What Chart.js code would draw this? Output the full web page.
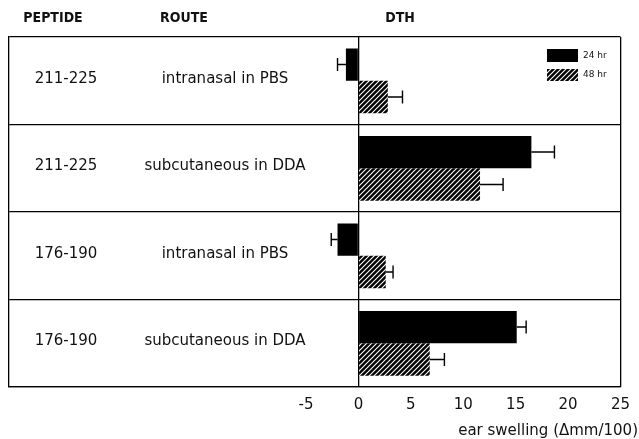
<!DOCTYPE html>
<html>
<head>
<meta charset="utf-8">
<script src="https://cdn.jsdelivr.net/npm/chart.js@4.4.1/dist/chart.umd.min.js"></script>
<style>
  html, body { margin: 0; padding: 0; background: #fff; }
  #wrap { width: 639px; height: 439px; }
</style>
</head>
<body>
<div id="wrap"><canvas id="dthChart" width="639" height="439"></canvas></div>
<script>
const peptides = ["211-225", "211-225", "176-190", "176-190"];
const routes = ["intranasal in PBS", "subcutaneous in DDA", "intranasal in PBS", "subcutaneous in DDA"];
const hr24 = [-1.2, 16.5, -2.0, 15.1];
const hr24Err = [0.8, 2.2, 0.6, 0.9];
const hr48 = [2.8, 11.6, 2.6, 6.8];
const hr48Err = [1.4, 2.2, 0.7, 1.4];
const xTicks = [-5, 0, 5, 10, 15, 20, 25];

// diagonal hatch for the 48 hr bars
function makeHatch() {
  const c = document.createElement("canvas");
  c.width = 5; c.height = 5;
  const g = c.getContext("2d");
  g.fillStyle = "#000";
  g.fillRect(0, 0, 5, 5);
  g.strokeStyle = "#fff";
  g.lineWidth = 1.1;
  g.beginPath();
  g.moveTo(-1, 6); g.lineTo(6, -1);
  g.moveTo(-1, 1); g.lineTo(1, -1);
  g.moveTo(4, 6); g.lineTo(6, 4);
  g.stroke();
  return g.createPattern(c, "repeat");
}
const hatch = makeHatch();

const textFont = '"DejaVu Sans", sans-serif';

const extras = {
  id: "extras",
  afterDatasetsDraw(chart) {
    const ctx = chart.ctx;
    const x = chart.scales.x;
    const y = chart.scales.y;

    // error bars
    ctx.save();
    ctx.strokeStyle = "#000";
    ctx.lineWidth = 1.4;
    [[0, hr24, hr24Err], [1, hr48, hr48Err]].forEach(([di, vals, errs]) => {
      const meta = chart.getDatasetMeta(di);
      meta.data.forEach((bar, i) => {
        const v = vals[i];
        const end = v < 0 ? v - errs[i] : v + errs[i];
        const x0 = x.getPixelForValue(v);
        const x1 = x.getPixelForValue(end);
        const cy = bar.y;
        ctx.beginPath();
        ctx.moveTo(x0, cy); ctx.lineTo(x1, cy);
        ctx.moveTo(x1, cy - 6.5); ctx.lineTo(x1, cy + 6.5);
        ctx.stroke();
      });
    });

    // table text
    ctx.fillStyle = "#111";
    ctx.textBaseline = "middle";
    ctx.textAlign = "center";
    ctx.font = "15px " + textFont;
    peptides.forEach((p, i) => {
      const cy = y.getPixelForValue(i) - 2;
      ctx.fillText(p, 66, cy);
      ctx.fillText(routes[i], 225, cy);
    });

    // headers
    ctx.font = 'bold 14px "DejaVu Sans Condensed", "DejaVu Sans", sans-serif';
    ctx.fillText("PEPTIDE", 53, 18);
    ctx.fillText("ROUTE", 184, 18);
    ctx.fillText("DTH", 400, 18);

    // legend
    ctx.fillStyle = "#000";
    ctx.fillRect(547, 49, 31, 13);
    ctx.fillStyle = hatch;
    ctx.fillRect(547, 69, 31, 12);
    ctx.fillStyle = "#111";
    ctx.textAlign = "left";
    ctx.font = "9px " + textFont;
    ctx.fillText("24 hr", 583, 56);
    ctx.fillText("48 hr", 583, 75);

    // axis title
    ctx.font = "15px " + textFont;
    ctx.textAlign = "right";
    ctx.fillText("ear swelling (\u0394mm/100)", 638, 431);
    ctx.restore();
  }
};

new Chart(document.getElementById("dthChart"), {
  type: "bar",
  data: {
    labels: peptides.map((p, i) => p + " " + routes[i]),
    datasets: [
      { label: "24 hr", data: hr24, backgroundColor: "#000", borderWidth: 0,
        categoryPercentage: 0.74, barPercentage: 1.0 },
      { label: "48 hr", data: hr48, backgroundColor: hatch, borderWidth: 0,
        categoryPercentage: 0.74, barPercentage: 1.0 }
    ]
  },
  options: {
    indexAxis: "y",
    responsive: false,
    animation: false,
    layout: { padding: { left: 9, right: 13, top: 37, bottom: 16 } },
    plugins: { legend: { display: false }, tooltip: { enabled: false } },
    scales: {
      x: {
        min: -33.35,
        max: 25,
        afterBuildTicks: (axis) => { axis.ticks = xTicks.map((v) => ({ value: v })); },
        grid: {
          drawTicks: false,
          lineWidth: 1.3,
          color: (c) => (c.tick && (c.tick.value === 0 || c.tick.value === 25)) ? "#000" : "rgba(0,0,0,0)"
        },
        border: { display: true, color: "#000", width: 1.3 },
        ticks: { color: "#111", padding: 9, font: { family: textFont, size: 15 } }
      },
      y: {
        grid: { drawTicks: false, color: "#000", lineWidth: 1.3, offset: true },
        border: { display: true, color: "#000", width: 1.3 },
        ticks: { display: false }
      }
    }
  },
  plugins: [extras]
});
</script>
</body>
</html>
